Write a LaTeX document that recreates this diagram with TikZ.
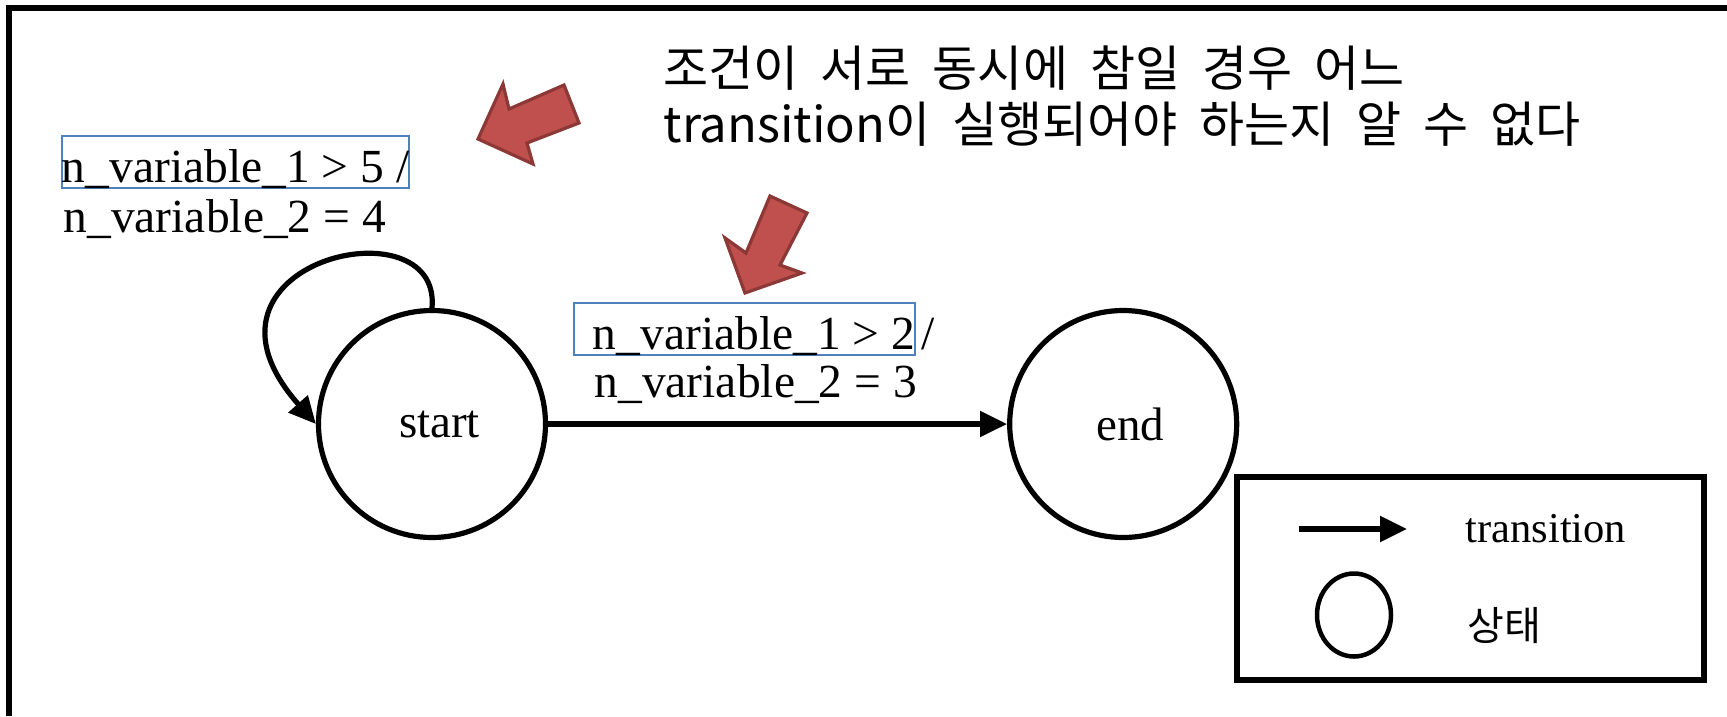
\documentclass[tikz,border=0pt]{standalone}
\usepackage{fontspec}
\setmainfont{Liberation Serif}
\newfontfamily\kor[WordSpace=2]{Noto Sans CJK KR}
\usepackage{tikz}
\usetikzlibrary{arrows.meta,shapes,positioning}

\definecolor{calloutRed}{HTML}{C0504D}
\definecolor{calloutEdge}{HTML}{8C3836}
\definecolor{hiliteBlue}{HTML}{4F81BD}

\begin{document}
\begin{tikzpicture}[x=1pt,y=-1pt,>={Triangle[length=27pt,width=25pt]},line width=5.2pt]

\tikzset{
	fsmState/.style={
		circle,
		draw,
		minimum size=227pt,
		inner sep=0pt,
		font=\fontsize{47}{50}\selectfont
	}
}

\tikzset{
	guardText/.style={
		anchor=base west,
		inner sep=0pt,
		font=\fontsize{47.5}{50}\selectfont
	},
	guardBox/.style={
		guardText,
		draw=hiliteBlue,
		line width=1.8pt,
		text height=46pt,
		text depth=6pt
	}
}

\tikzset{
	calloutArrow/.style={
		fill=calloutRed,
		draw=calloutEdge,
		line width=3.2pt,
		line join=miter
	}
}

\tikzset{
	titleText/.style={
		anchor=base west,
		inner sep=0pt,
		font=\kor\fontsize{49}{56}\selectfont
	},
	legendText/.style={
		anchor=base west,
		inner sep=0pt,
		font=\fontsize{42.5}{45}\selectfont
	}
}

\useasboundingbox (0,0) rectangle (1727,716);

% outer frame
\draw[line width=6pt] (9,716) -- (9,8) -- (1727,8);

% states
\node[fsmState] (start) at (432,424) {\hspace{15pt}start};
\node[fsmState] (end) [right=459pt of start] {\hspace{14pt}end};

\path[->] (start) edge (end);
\draw[->] (start.north) .. controls (442,200) and (172,262) .. (start.west);

% guards / actions
\node[guardBox] (guard1) at (61,182) {n\_variable\_1 > 5 /\ };
\node[guardText] (action1) at ([yshift=-50pt]guard1.base west) {n\_variable\_2 = 4};

\node[guardBox] (guard2) at (573,349) {\hspace*{19pt}n\_variable\_1 > 2};
\node[guardText] (slash2) at ([xshift=3pt]guard2.base east) {/};
\node[guardText] (action2) at ([yshift=-48pt]guard2.base west) {\hspace*{19pt}n\_variable\_2 = 3};

% note
\node[titleText] (title1) at (661,86) {조건이 서로 동시에 참일 경우 어느};
\node[titleText] (title2) at ([yshift=-56pt]title1.base west) {transition이 실행되어야 하는지 알 수 없다};

\draw[calloutArrow] (478,139) -- (503,84) -- (509,109) -- (564,85) -- (579,123) -- (527,143) -- (533,164) -- cycle;
\draw[calloutArrow] (745,293) -- (725,238) -- (746,253) -- (770,196) -- (807,213) -- (780,265) -- (802,273) -- cycle;

% legend
\node[draw, line width=5.5pt, minimum width=467pt, minimum height=203pt, inner sep=0pt] (legend) at (1470.5,578.5) {};
\coordinate (legArrowA) at (1299,529);
\coordinate (legArrowB) at (1407,529);
\draw[->] (legArrowA) -- (legArrowB);
\node[legendText] (legTrans) at (1463,542) {transition};
\node[draw, ellipse, line width=4.5pt, minimum width=74pt, minimum height=83pt, inner sep=0pt] (legState) at (1354,615) {};
\node[legendText, font=\kor\fontsize{40}{44}\selectfont] (legStateText) at (1465,640) {상태};

\end{tikzpicture}
\end{document}
